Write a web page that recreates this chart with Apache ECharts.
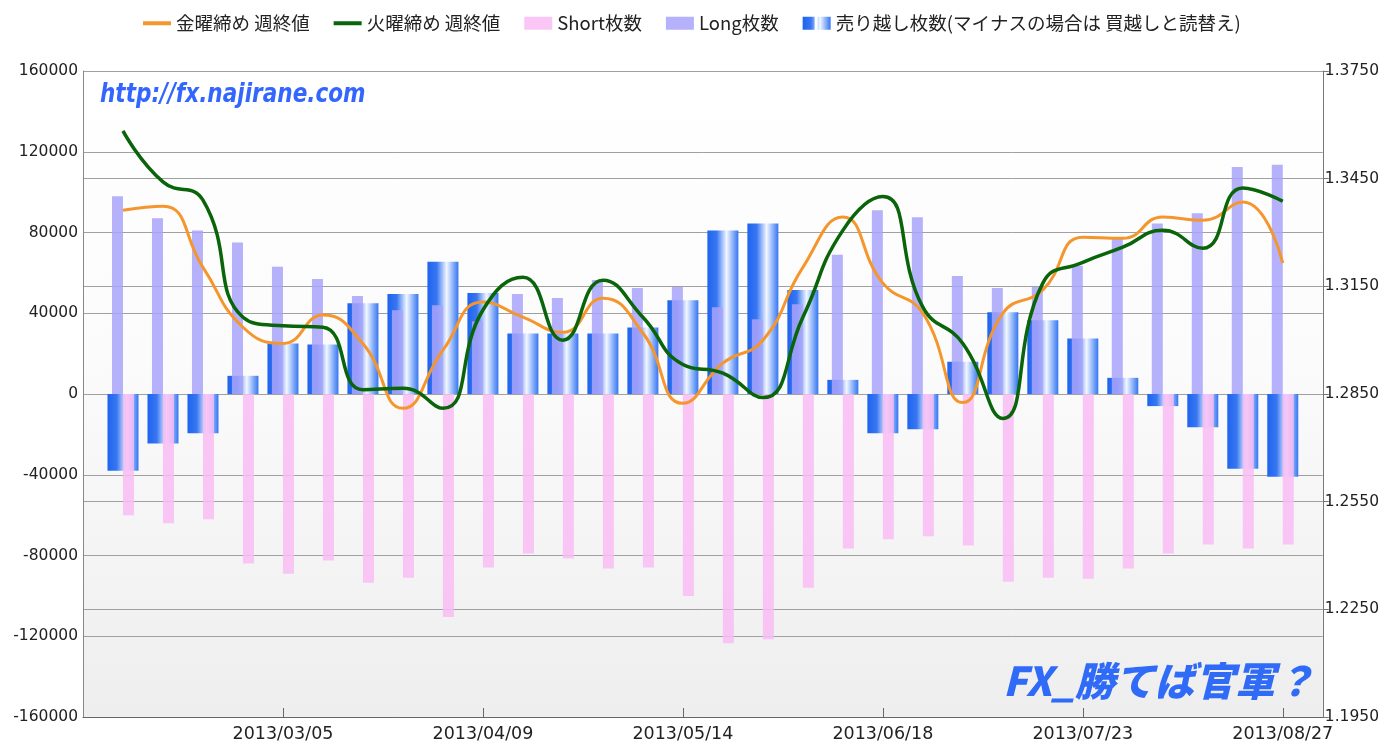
<!DOCTYPE html>
<html>
<head>
<meta charset="utf-8">
<script src="https://cdn.jsdelivr.net/npm/echarts@6/dist/echarts.min.js"></script>
<style>
html,body{margin:0;padding:0;background:#fff;}
#chart{width:1382px;height:747px;}
</style>
</head>
<body>
<div id="chart"></div>
<script>
// ---- data ----
const categories = ['2013/02/05','2013/02/12','2013/02/19','2013/02/26','2013/03/05','2013/03/12','2013/03/19','2013/03/26','2013/04/02','2013/04/09','2013/04/16','2013/04/23','2013/04/30','2013/05/07','2013/05/14','2013/05/21','2013/05/28','2013/06/04','2013/06/11','2013/06/18','2013/06/25','2013/07/02','2013/07/09','2013/07/16','2013/07/23','2013/07/30','2013/08/06','2013/08/13','2013/08/20','2013/08/27'];
const padStart = '2013/01/29';
const padEnd = '2013/09/03';
const fridayClose = [1.3362,1.3373,1.3203,1.3036,1.2991,1.3070,1.2990,1.2810,1.2972,1.3106,1.3064,1.3022,1.3117,1.3020,1.2824,1.2936,1.3000,1.3203,1.3343,1.3159,1.3075,1.2826,1.3075,1.3140,1.3287,1.3284,1.3343,1.3334,1.3385,1.3215];
const tuesdayClose = [1.3583,1.3441,1.3390,1.3064,1.3040,1.3036,1.2862,1.2866,1.2810,1.3084,1.3175,1.3000,1.3167,1.3064,1.2932,1.2908,1.2840,1.3064,1.3306,1.3400,1.3092,1.2991,1.2782,1.3159,1.3217,1.3259,1.3306,1.3256,1.3424,1.3387];
const shortPos = [-60000,-64000,-62000,-84000,-89000,-82500,-93500,-91000,-110500,-86000,-79000,-81500,-86500,-86000,-100000,-123500,-121500,-96000,-76500,-72000,-70500,-75000,-93000,-91000,-91500,-86500,-79000,-74500,-76500,-74500];
const longPos = [98000,87000,81000,75000,63000,57000,48500,41500,44000,36000,49500,47500,56500,52500,53000,43000,37000,44500,69000,91000,87500,58500,52500,53000,63500,77500,84500,89500,112500,113500];
const netShort = [-38000,-24500,-19500,9000,25000,24500,45000,49500,65500,50000,30000,30000,30000,33000,46500,81000,84500,51500,7000,-19500,-17500,16000,40500,36500,27500,8000,-6000,-16500,-37000,-41000];
const leftTicks = {min:-160000,max:160000,interval:40000};
const rightTicks = {min:1.195,max:1.375,interval:0.03};
const names = ['金曜締め 週終値','火曜締め 週終値','Short枚数','Long枚数','売り越し枚数(マイナスの場合は 買越しと読替え)'];

// ---- build ----
const axisCats = [padStart].concat(categories, [padEnd]);
const pad = a => [null].concat(a, [null]);
const FONT = '"Noto Sans CJK JP", "Noto Sans", sans-serif';
const NUMFONT = '"DejaVu Sans", sans-serif';
const showIdx = i => i > 0 && i % 5 === 0 && i < axisCats.length - 1;

const chart = echarts.init(document.getElementById('chart'));
const blueGrad = new echarts.graphic.LinearGradient(0,0,1,0,[
  {offset:0,color:'#1f63ee'},
  {offset:0.3,color:'#3877f2'},
  {offset:0.62,color:'#f2f6ff'},
  {offset:0.82,color:'#8cb2f8'},
  {offset:1,color:'#3576f1'}
]);
const plotBg = new echarts.graphic.LinearGradient(0,0,0,1,[
  {offset:0,color:'#ffffff'},
  {offset:0.45,color:'#fbfbfb'},
  {offset:1,color:'#eeeeee'}
]);

const option = {
  animation:false,
  backgroundColor:'#ffffff',
  textStyle:{fontFamily:FONT},
  legend:{
    top:9, left:138, itemGap:24, itemWidth:28, itemHeight:13,
    textStyle:{fontSize:18.5,color:'#222',fontFamily:FONT},
    data:[
      {name:names[0],icon:'path://M0 0h28v4H0z'},
      {name:names[1],icon:'path://M0 0h28v4H0z'},
      {name:names[2],icon:'rect'},
      {name:names[3],icon:'rect'},
      {name:names[4],icon:'path://M0 0h12v13H0zM15 0h13v13H15z'}
    ]
  },
  grid:{left:83,right:59,top:71,bottom:30,show:true,backgroundColor:plotBg,borderWidth:0},
  xAxis:[
    {type:'category',data:axisCats,boundaryGap:false,
     axisLine:{onZero:false,lineStyle:{color:'#666',width:1}},
     axisTick:{inside:true,length:9,interval:(i)=>showIdx(i),lineStyle:{color:'#666'}},
     axisLabel:{interval:(i)=>showIdx(i),fontSize:17.5,color:'#222',margin:8,fontFamily:NUMFONT},
     splitLine:{show:false}},
    {type:'category',data:axisCats,boundaryGap:false,show:false,axisLine:{onZero:false}}
  ],
  yAxis:[
    {type:'value',min:leftTicks.min,max:leftTicks.max,interval:leftTicks.interval,
     axisLine:{show:true,lineStyle:{color:'#888'}},axisTick:{show:false},
     axisLabel:{fontSize:15.5,color:'#222',margin:5,formatter:v=>String(v),fontFamily:NUMFONT},
     splitLine:{lineStyle:{color:'#a0a0a0',width:1}}},
    {type:'value',min:rightTicks.min,max:rightTicks.max,interval:rightTicks.interval,position:'right',
     axisLine:{show:true,lineStyle:{color:'#777'}},
     axisTick:{show:true,length:6,inside:false,lineStyle:{color:'#777'}},
     axisLabel:{fontSize:15.5,color:'#222',margin:2,formatter:v=>v.toFixed(4),fontFamily:NUMFONT},
     splitLine:{show:true,lineStyle:{color:'#a0a0a0',width:1}}}
  ],
  series:[
    {name:names[4],type:'bar',xAxisIndex:1,yAxisIndex:0,data:pad(netShort),barWidth:31,z:2,
     itemStyle:{color:blueGrad}},
    {name:names[3],type:'bar',xAxisIndex:0,yAxisIndex:0,data:pad(longPos),barWidth:11,barGap:'0%',z:3,
     itemStyle:{color:'#a8a3fa',opacity:0.85}},
    {name:names[2],type:'bar',xAxisIndex:0,yAxisIndex:0,data:pad(shortPos),barWidth:11,barGap:'0%',z:3,
     itemStyle:{color:'#f8bcf5',opacity:0.85}},
    {name:names[0],type:'line',xAxisIndex:0,yAxisIndex:1,data:pad(fridayClose),smooth:0.5,showSymbol:false,symbol:'none',z:5,
     lineStyle:{color:'#f5962d',width:3},itemStyle:{color:'#f5962d'}},
    {name:names[1],type:'line',xAxisIndex:0,yAxisIndex:1,data:pad(tuesdayClose),smooth:0.5,showSymbol:false,symbol:'none',z:6,
     lineStyle:{color:'#0a640a',width:3.5},itemStyle:{color:'#0a640a'}}
  ],
  graphic:[
    {type:'text',left:100,top:82,z:10,scaleX:0.83,originX:100,
     style:{text:'http://fx.najirane.com',fontSize:26,fontWeight:'bold',fontStyle:'italic',fontFamily:NUMFONT,fill:'#3366ff'}},
    {type:'text',left:1003,top:661,z:10,
     style:{text:'FX_勝てば官軍？',fontSize:40,fontWeight:900,fontStyle:'italic',fontFamily:FONT,fill:'#2f6bf7'}}
  ]
};
chart.setOption(option);
</script>
</body>
</html>
